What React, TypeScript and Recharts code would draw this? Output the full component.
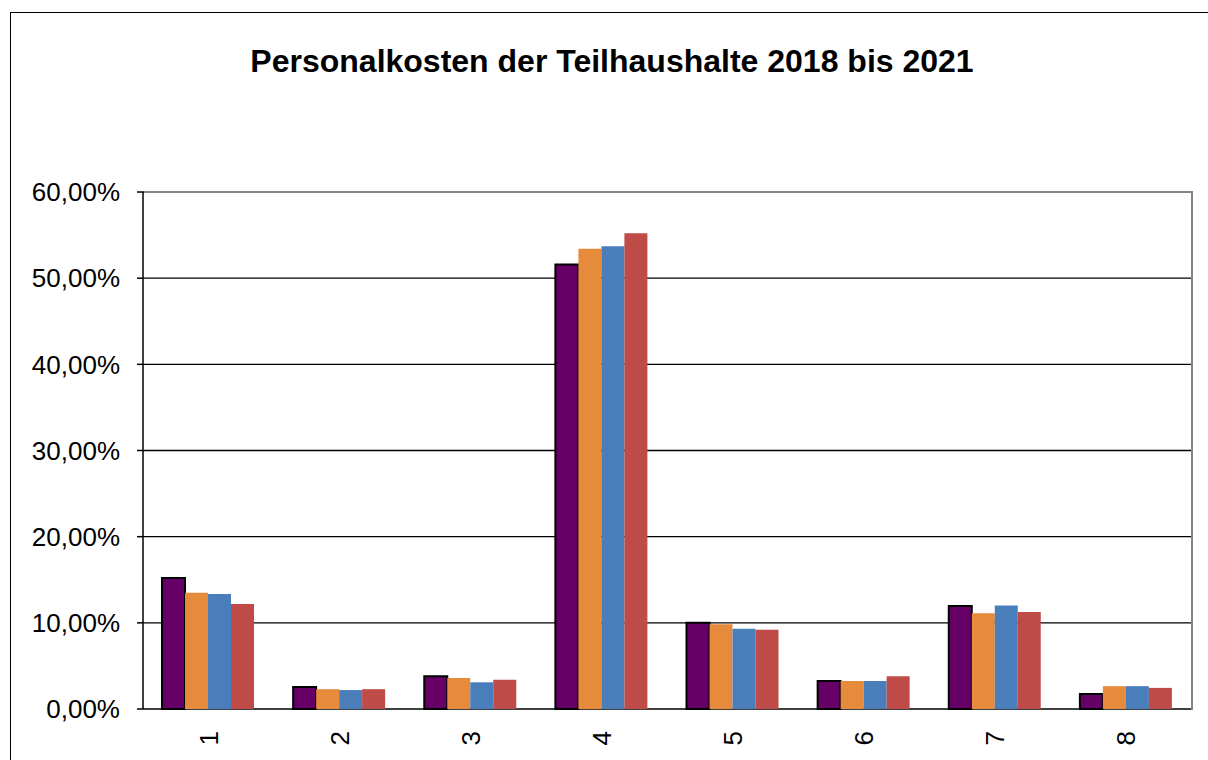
import React from "react";
import { BarChart, Bar, XAxis, YAxis, CartesianGrid } from "recharts";

// Teilhaushalte 1..8, Anteil an den Personalkosten in %
const TEILHAUSHALTE = ["1", "2", "3", "4", "5", "6", "7", "8"];
const WERTE_2018 = [15.2, 2.55, 3.8, 51.6, 10.0, 3.25, 11.95, 1.75];
const WERTE_2019 = [13.5, 2.3, 3.6, 53.4, 9.85, 3.25, 11.1, 2.65];
const WERTE_2020 = [13.35, 2.2, 3.1, 53.7, 9.3, 3.25, 12.0, 2.65];
const WERTE_2021 = [12.2, 2.3, 3.4, 55.2, 9.2, 3.8, 11.25, 2.45];
const Y_TICKS = [0, 10, 20, 30, 40, 50, 60];
const GRENZEN = [0, 1, 2, 3, 4, 5, 6, 7, 8];

const SERIES = [
  { key: "j2018", werte: WERTE_2018, fill: "#660066", stroke: "#000" },
  { key: "j2019", werte: WERTE_2019, fill: "#E68A3C", stroke: "none" },
  { key: "j2020", werte: WERTE_2020, fill: "#4A7EBB", stroke: "none" },
  { key: "j2021", werte: WERTE_2021, fill: "#BE4B48", stroke: "none" },
];

const data = TEILHAUSHALTE.map((name, i) => {
  const row: Record<string, string | number> = { name };
  SERIES.forEach((s) => (row[s.key] = s.werte[i]));
  return row;
});

const FONT = '"Liberation Sans", Arial, sans-serif';

// Plotbereich (Rand oben/rechts grau wie im Original)
const PLOT = { left: 143, top: 192, right: 1192, bottom: 709 };

const formatProzent = (v: number) => v.toFixed(2).replace(".", ",") + "%";

function KategorieTick(props: any) {
  const { x, y, payload } = props;
  return (
    <text
      x={0}
      y={0}
      transform={`translate(${x},${y + 14}) rotate(-90)`}
      textAnchor="end"
      dominantBaseline="central"
      fontSize={26}
      fontFamily={FONT}
      fill="#000"
    >
      {payload.value}
    </text>
  );
}

export default function App() {
  return (
    <div
      style={{
        position: "absolute",
        left: 0,
        top: 0,
        width: 1208,
        height: 760,
        overflow: "hidden",
        background: "#fff",
      }}
    >
      <div
        style={{
          position: "absolute",
          left: 10,
          top: 12,
          width: 1220,
          height: 770,
          border: "1px solid #000",
        }}
      />
      <div
        style={{
          position: "absolute",
          left: 0,
          width: 1224,
          top: 43,
          textAlign: "center",
          fontFamily: FONT,
          fontWeight: "bold",
          fontSize: 32,
          color: "#000",
        }}
      >
        Personalkosten der Teilhaushalte 2018 bis 2021
      </div>
      <div style={{ position: "absolute", left: 0, top: 0 }}>
        <BarChart
          width={1208}
          height={760}
          data={data}
          margin={{ top: PLOT.top, right: 1208 - PLOT.right, bottom: 0, left: 43 }}
          barCategoryGap="14.5%"
          barGap={0}
        >
          <CartesianGrid vertical={false} stroke="#000" strokeWidth={1.3} />
          <XAxis
            xAxisId="grenzen"
            type="number"
            domain={[0, 8]}
            ticks={GRENZEN}
            height={0}
            tickFormatter={() => ""}
            tickSize={7}
            axisLine={{ stroke: "#000", strokeWidth: 1.5 }}
            tickLine={{ stroke: "#000", strokeWidth: 1.5 }}
            allowDataOverflow
          />
          <XAxis
            dataKey="name"
            height={760 - PLOT.bottom}
            axisLine={false}
            tickLine={false}
            tick={<KategorieTick />}
            interval={0}
          />
          <YAxis
            width={100}
            domain={[0, 60]}
            ticks={Y_TICKS}
            tickFormatter={formatProzent}
            tickSize={6}
            tickMargin={17}
            axisLine={{ stroke: "#000", strokeWidth: 1.5 }}
            tickLine={{ stroke: "#000", strokeWidth: 1.5 }}
            tick={{ fontSize: 26, fontFamily: FONT, fill: "#000" }}
          />
          {SERIES.map((s) => (
            <Bar
              key={s.key}
              dataKey={s.key}
              fill={s.fill}
              stroke={s.stroke}
              strokeWidth={s.stroke === "none" ? 0 : 2}
              isAnimationActive={false}
            />
          ))}
        </BarChart>
      </div>
      <div
        style={{
          position: "absolute",
          left: PLOT.left + 1,
          top: PLOT.top - 1,
          width: PLOT.right - PLOT.left - 2,
          height: PLOT.bottom - PLOT.top,
          borderTop: "2px solid #858585",
          borderRight: "2px solid #858585",
          pointerEvents: "none",
        }}
      />
    </div>
  );
}
